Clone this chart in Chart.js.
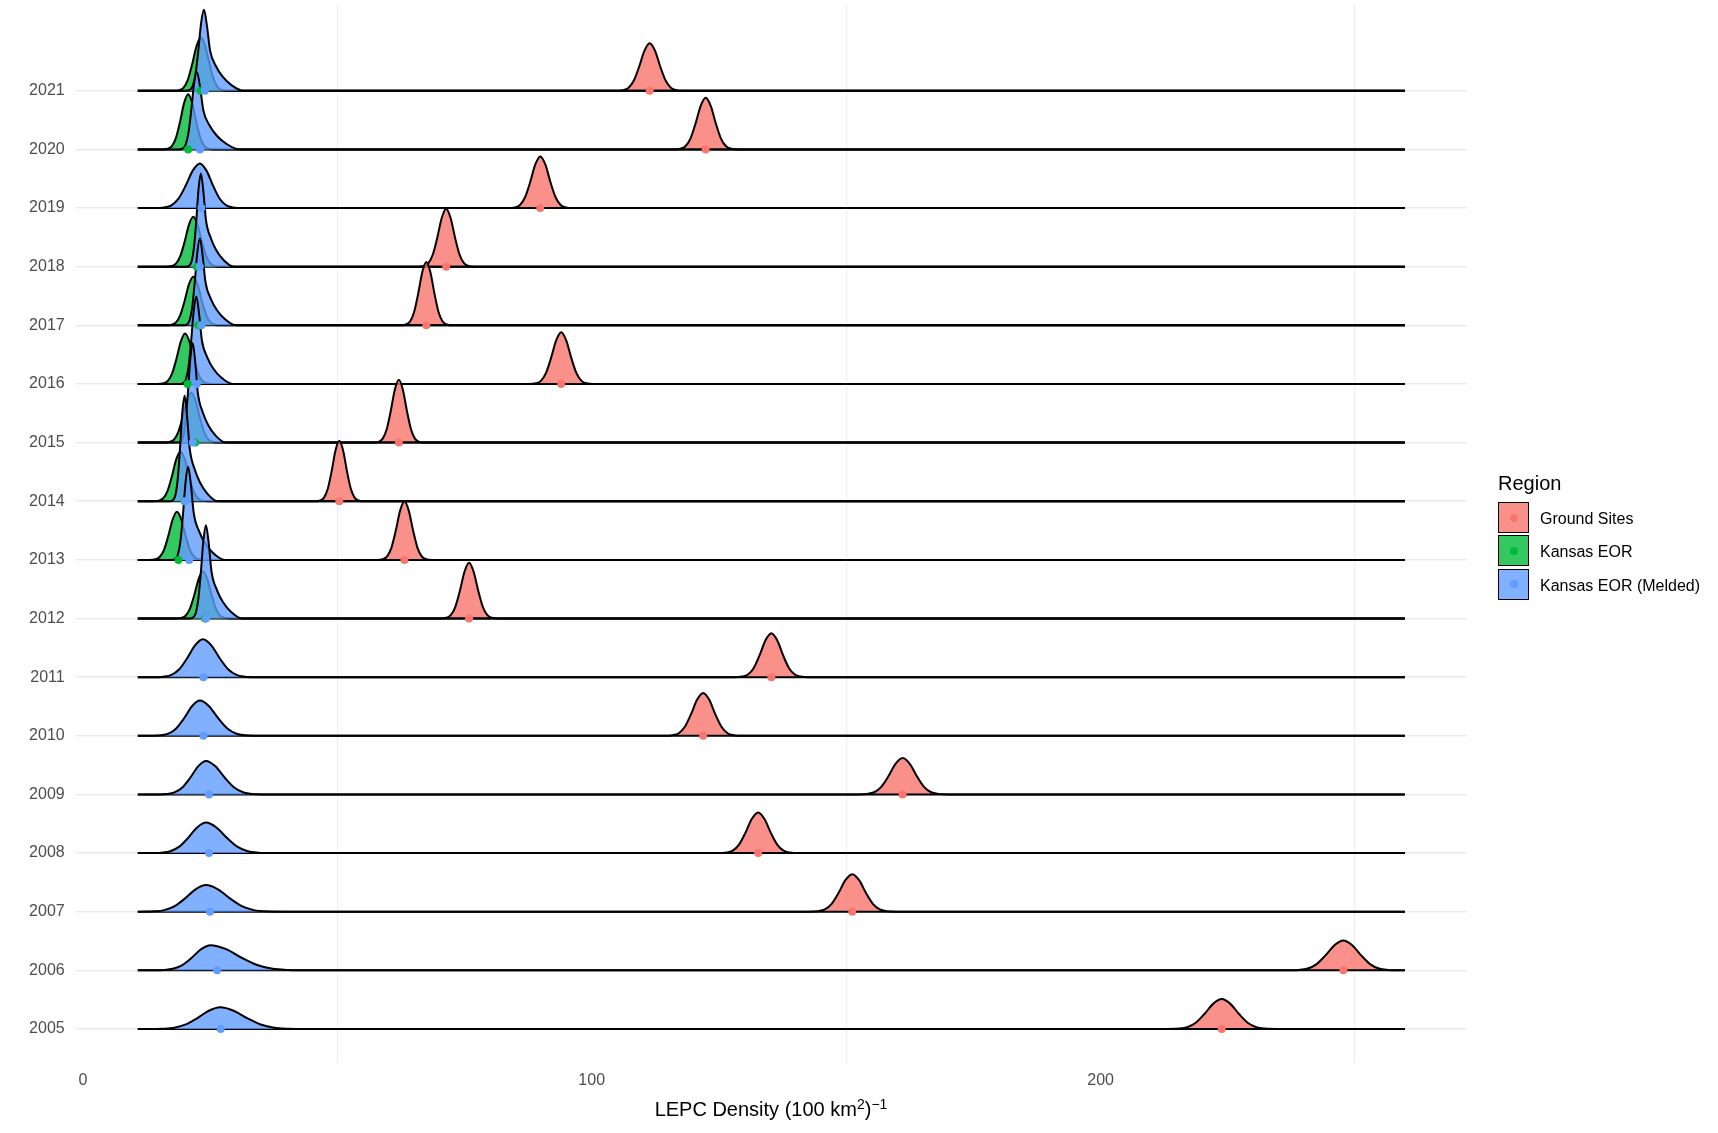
<!DOCTYPE html>
<html>
<head>
<meta charset="utf-8">
<script src="https://cdn.jsdelivr.net/npm/chart.js@4.4.1/dist/chart.umd.min.js"></script>
<style>
  body { margin: 0; background: #fff; }
  #contenedor { position: relative; width: 1718px; height: 1133px; font-family: "Liberation Sans", Arial, sans-serif; }
  #grafico { position: absolute; left: 0; top: 0; }
  #titulo-x { position: absolute; left: 571px; width: 400px; top: 1096px; text-align: center; font-size: 20px; color: #000; line-height: 26px; }
  #titulo-x sup { font-size: 14px; vertical-align: 7px; line-height: 0; }
  #leyenda { position: absolute; left: 1498px; top: 470px; color: #000; }
  .leyenda-titulo { font-size: 20px; height: 32px; line-height: 26px; }
  .leyenda-item { position: relative; height: 33.3px; }
  .leyenda-caja { position: absolute; left: 0; top: 0; width: 29px; height: 29px; border: 1.5px solid #000; }
  .leyenda-punto { position: absolute; left: 10.5px; top: 10.5px; width: 8px; height: 8px; border-radius: 50%; }
  .leyenda-texto { position: absolute; left: 42px; top: 8px; font-size: 16px; white-space: nowrap; }
</style>
</head>
<body>
<div id="contenedor">
  <canvas id="grafico" width="1718" height="1133"></canvas>
  <div id="titulo-x">LEPC Density (100 km<sup>2</sup>)<sup>−1</sup></div>
  <div id="leyenda"><div class="leyenda-titulo">Region</div></div>
</div>
<script>
// rows, bottom to top
const years = [2005, 2006, 2007, 2008, 2009, 2010, 2011, 2012, 2013, 2014, 2015, 2016, 2017, 2018, 2019, 2020, 2021];
const regionNames = ['Ground Sites', 'Kansas EOR', 'Kansas EOR (Melded)'];
const xTicks = [0, 50, 100, 150, 200, 250];
const densityRange = [10.8, 259.8];

// Ground Sites: peak position, peak height (in rows), half width at half height, point position
const groundPeak = [223.8, 247.7, 151.2, 132.7, 161.1, 121.9, 135.3, 75.9, 63.2, 50.4, 62.1, 94.0, 67.5, 71.4, 89.9, 122.4, 111.4];
const groundHeight = [0.51, 0.51, 0.64, 0.69, 0.62, 0.73, 0.75, 0.95, 1.0, 1.03, 1.07, 0.88, 1.08, 0.99, 0.88, 0.88, 0.81];
const groundWidth = [3.4, 3.5, 2.7, 2.5, 2.8, 2.4, 2.3, 1.8, 1.7, 1.5, 1.6, 2.0, 1.6, 1.75, 2.0, 2.0, 2.1];
const groundPoint = [223.8, 247.7, 151.2, 132.7, 161.1, 121.9, 135.3, 75.9, 63.2, 50.4, 62.1, 94.0, 67.5, 71.4, 89.9, 122.4, 111.4];

// Kansas EOR (no data before 2012 and in 2019)
const eorPeak = [null, null, null, null, null, null, null, 23.6, 18.5, 19.2, 21.3, 20.1, 21.7, 21.7, null, 20.7, 23.2];
const eorHeight = [null, null, null, null, null, null, null, 0.80, 0.82, 0.85, 0.85, 0.86, 0.83, 0.85, null, 0.94, 0.91];
const eorWidth = [null, null, null, null, null, null, null, 1.7, 1.7, 1.7, 1.7, 1.7, 1.7, 1.7, null, 1.6, 1.7];
const eorPoint = [null, null, null, null, null, null, null, 24.0, 18.8, 20.0, 22.1, 20.6, 22.7, 22.4, null, 20.7, 23.1];

// Kansas EOR (Melded)
const meldPeak = [27.0, 25.1, 24.2, 24.2, 24.2, 23.0, 23.6, 24.2, 20.7, 20.0, 21.6, 22.3, 23.0, 23.2, 23.0, 22.4, 23.8];
const meldHeight = [0.37, 0.43, 0.455, 0.52, 0.57, 0.60, 0.645, 1.59, 1.59, 1.8, 1.7, 1.49, 1.48, 1.59, 0.76, 1.32, 1.38];
const meldWidthLeft = [4.5, 3.7, 4.1, 3.5, 3.1, 3.1, 3.1, 1.0, 1.0, 0.9, 0.95, 1.0, 1.0, 0.9, 2.8, 1.1, 1.1];
const meldWidthRight = [5.3, 6.1, 4.7, 4.1, 3.7, 3.6, 3.3, 1.1, 1.1, 1.0, 1.0, 1.1, 1.1, 1.0, 2.6, 1.3, 1.2];
const meldPoint = [27.1, 26.4, 25.0, 24.8, 24.8, 23.7, 23.7, 24.2, 20.9, 20.1, 21.6, 22.4, 23.3, 23.0, 23.3, 23.0, 24.0];

// ridge outlines (offset in half widths -> share of peak height)
const bellOffsets = [0, 0.5, 1, 1.5, 2, 2.5, 3.2];
const bellShares = [1, 0.84, 0.5, 0.21, 0.06, 0.013, 0];
const tailOffsets = [0, 0.5, 1, 2, 3, 4.5, 6.5];
const tailShares = [1, 0.8, 0.5, 0.3, 0.18, 0.07, 0];

const fills = ['rgba(248,118,109,0.8)', 'rgba(0,186,56,0.8)', 'rgba(97,156,255,0.8)'];
const dots = ['#F8766D', '#00BA38', '#619CFF'];

const regions = [
  { peak: groundPeak, height: groundHeight, left: groundWidth, right: groundWidth, point: groundPoint },
  { peak: eorPeak, height: eorHeight, left: eorWidth, right: eorWidth, point: eorPoint },
  { peak: meldPeak, height: meldHeight, left: meldWidthLeft, right: meldWidthRight, point: meldPoint }
];

function ridgePoints(row, peak, height, wl, wr) {
  // the tall narrow melded ridges have a long right tail
  const spiky = wl < 1.5 && height > 1.1;
  const rOffs = spiky ? tailOffsets : bellOffsets;
  const rShares = spiky ? tailShares : bellShares;
  const pts = [{ x: densityRange[0], y: row }];
  for (let k = bellOffsets.length - 1; k > 0; k--) pts.push({ x: peak - bellOffsets[k] * wl, y: row + height * bellShares[k] });
  pts.push({ x: peak, y: row + height });
  for (let k = 1; k < rOffs.length; k++) pts.push({ x: peak + rOffs[k] * wr, y: row + height * rShares[k] });
  pts.push({ x: densityRange[1], y: row });
  return pts;
}

const datasets = [];
let seq = 0;
// top row first so lower rows end up in front
for (let i = years.length - 1; i >= 0; i--) {
  regions.forEach((r, j) => {
    if (r.peak[i] == null) return;
    datasets.push({
      type: 'line',
      data: ridgePoints(i, r.peak[i], r.height[i], r.left[i], r.right[i]),
      borderColor: '#000',
      borderWidth: 2,
      backgroundColor: fills[j],
      fill: { value: i },
      pointRadius: 0,
      cubicInterpolationMode: 'monotone',
      clip: false,
      order: -seq++
    });
  });
}

regions.forEach((r, j) => {
  datasets.push({
    type: 'scatter',
    data: years.map((y, i) => r.point[i] == null ? null : { x: r.point[i], y: i }).filter(p => p),
    pointRadius: 4,
    pointBorderWidth: 0,
    pointBackgroundColor: dots[j],
    order: -1000 - j
  });
});

const tickFont = { family: '"Liberation Sans", Arial, sans-serif', size: 16 };

new Chart(document.getElementById('grafico'), {
  type: 'line',
  data: { datasets: datasets },
  options: {
    responsive: false,
    animation: false,
    devicePixelRatio: 1,
    layout: { padding: { top: 0, right: 251, bottom: 0, left: 0 } },
    plugins: { legend: { display: false }, tooltip: { enabled: false } },
    scales: {
      x: {
        type: 'linear',
        min: -1.4,
        max: 272,
        afterBuildTicks: axis => { axis.ticks = xTicks.map(v => ({ value: v })); },
        afterFit: axis => {
          axis.height = 70;
          axis.paddingLeft = 0;
          axis.paddingRight = 0;
        },
        ticks: {
          font: tickFont,
          color: '#4D4D4D',
          padding: 8,
          maxRotation: 0,
          callback: v => (v % 100 === 0 ? String(v) : '')
        },
        grid: {
          drawTicks: false,
          color: ctx => (ctx.tick && ctx.tick.value % 100 !== 0 ? '#EFEFEF' : 'rgba(0,0,0,0)'),
          lineWidth: 1.2
        },
        border: { display: false }
      },
      y: {
        type: 'linear',
        min: -0.58,
        max: 17.48,
        afterBuildTicks: axis => { axis.ticks = years.map((y, i) => ({ value: i })); },
        afterFit: axis => {
          axis.width = 75.7;
          axis.paddingTop = 0;
          axis.paddingBottom = 0;
        },
        ticks: {
          font: tickFont,
          color: '#4D4D4D',
          padding: 11,
          callback: v => years[v]
        },
        grid: { drawTicks: false, color: '#EBEBEB', lineWidth: 1.6 },
        border: { display: false }
      }
    }
  }
});

// legend
const leyenda = document.getElementById('leyenda');
regionNames.forEach((name, j) => {
  const item = document.createElement('div');
  item.className = 'leyenda-item';
  item.innerHTML = `
    <div class="leyenda-caja" style="background:${fills[j]}"><div class="leyenda-punto" style="background:${dots[j]}"></div></div>
    <div class="leyenda-texto">${name}</div>
  `;
  leyenda.appendChild(item);
});
</script>
</body>
</html>
